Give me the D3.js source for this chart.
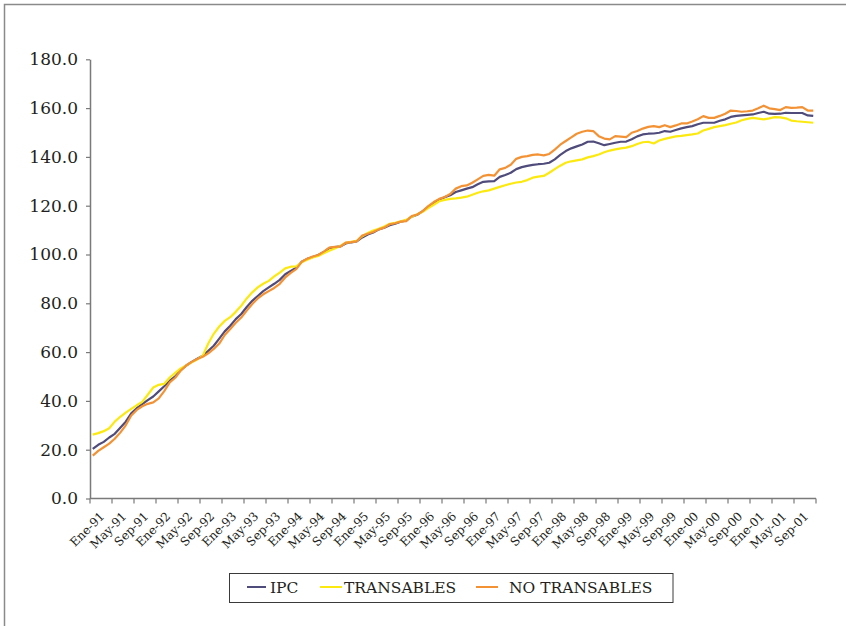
<!DOCTYPE html>
<html>
<head>
<meta charset="utf-8">
<script src="https://cdn.jsdelivr.net/npm/d3@7"></script>
<style>
  html, body { margin: 0; padding: 0; background: #ffffff; }
  svg { display: block; }
</style>
</head>
<body>
<svg id="chart" width="846" height="626"></svg>
<script>
// Monthly index, January 1991 to December 2001
const monthNames = ["Ene", "Feb", "Mar", "Abr", "May", "Jun", "Jul", "Ago", "Sep", "Oct", "Nov", "Dic"];
const years = [91, 92, 93, 94, 95, 96, 97, 98, 99, 0, 1];
const months = [];
years.forEach(y => monthNames.forEach(m => months.push(m + "-" + String(y).padStart(2, "0"))));

const ipc = [
  20.3, 22.0, 23.2, 25.0, 26.5, 29.0, 31.5, 34.9, 37.0, 38.7, 40.3, 41.8,
  43.9, 46.0, 48.3, 50.0, 52.7, 54.5, 56.0, 57.3, 58.5, 60.5, 62.6, 65.5,
  68.5, 70.8, 73.5, 75.6, 78.5, 81.0, 83.0, 85.0, 86.5, 88.0, 89.6, 91.9,
  93.3, 94.6, 97.0, 98.2, 99.0, 99.8, 101.0, 102.6, 103.0, 103.3, 104.5, 105.0,
  105.4, 107.0, 108.2, 109.0, 110.3, 111.0, 112.0, 112.6, 113.4, 114.0, 115.5, 116.3,
  117.8, 119.5, 121.2, 122.5, 123.5, 124.3, 125.6, 126.3, 127.0, 127.6, 128.8, 129.8,
  130.0, 130.1, 131.8, 132.6, 133.5, 135.0, 135.8, 136.3, 136.7, 137.0, 137.2, 137.6,
  139.0, 140.8, 142.4, 143.5, 144.3, 145.1, 146.2, 146.3, 145.6, 144.8, 145.3, 145.8,
  146.2, 146.3, 147.2, 148.4, 149.2, 149.5, 149.6, 149.9, 150.6, 150.3, 151.0, 151.7,
  152.2, 152.6, 153.4, 154.0, 154.0, 154.0, 154.8, 155.4, 156.4, 156.8, 157.0, 157.2,
  157.4, 158.0, 158.5, 157.7, 157.6, 157.7, 158.1, 158.0, 158.0, 158.0, 157.0, 156.8
];

const transables = [
  26.2, 26.8, 27.6, 28.8, 31.5, 33.5, 35.2, 36.7, 38.2, 39.6, 42.5, 45.5,
  46.6, 47.0, 49.6, 51.5, 53.3, 54.5, 55.8, 57.0, 58.5, 63.5, 67.5, 70.5,
  72.8, 74.3, 76.5, 79.0, 82.0, 84.5, 86.5, 88.0, 89.2, 91.0, 92.6, 94.3,
  95.0, 95.1, 96.8, 97.8, 98.8, 99.4, 100.5, 101.5, 102.5, 103.5, 104.8, 105.2,
  105.6, 107.5, 108.8, 109.8, 110.5, 111.5, 112.6, 113.0, 113.6, 114.2, 115.5, 116.5,
  117.5, 119.0, 120.4, 121.8, 122.4, 122.8, 123.0, 123.3, 123.7, 124.5, 125.3, 125.9,
  126.3, 127.0, 127.7, 128.4, 129.0, 129.5, 129.8, 130.5, 131.5, 131.9, 132.2, 133.5,
  135.0, 136.4, 137.6, 138.2, 138.6, 139.0, 139.8, 140.3, 141.0, 141.9, 142.6, 143.1,
  143.5, 143.8, 144.4, 145.3, 146.0, 146.2, 145.5, 146.7, 147.4, 147.9, 148.4, 148.6,
  148.9, 149.2, 149.6, 150.8, 151.5, 152.2, 152.6, 153.0, 153.6, 154.1, 155.0, 155.6,
  156.0, 155.7, 155.4, 155.8, 156.3, 156.2, 155.8, 154.9, 154.6, 154.4, 154.2, 154.0
];

const noTransables = [
  17.6, 19.5, 21.0, 22.5, 24.5, 27.0, 30.0, 34.0, 36.3, 37.8, 38.8, 39.4,
  41.0, 44.0, 47.6, 49.5, 52.4, 54.5, 56.0, 57.2, 58.1, 59.5, 61.3, 63.5,
  67.0, 69.5, 72.0, 74.2, 77.0, 79.7, 82.0, 83.7, 85.0, 86.3, 88.0, 90.6,
  92.5, 94.0, 97.0, 98.3, 99.2, 99.8, 101.2, 102.8, 103.1, 103.2, 104.9, 105.1,
  105.4, 107.8, 108.5, 109.2, 110.3, 111.0, 112.4, 112.8, 113.5, 113.7, 115.8, 116.4,
  117.8, 119.8, 121.5, 122.8, 123.6, 124.8, 127.0, 128.0, 128.3, 129.4, 130.8, 132.2,
  132.6, 132.3, 134.9, 135.5, 136.8, 139.2, 140.0, 140.3, 140.8, 141.0, 140.6, 141.2,
  143.0, 145.0, 146.5, 148.0, 149.5, 150.3, 150.8, 150.6, 148.5, 147.5, 147.2, 148.5,
  148.3, 148.1, 149.9, 150.6, 151.6, 152.3, 152.6, 152.2, 153.0, 152.2, 152.9, 153.7,
  153.7, 154.5, 155.4, 156.7, 156.0, 156.0, 156.8, 157.7, 159.0, 158.8, 158.5, 158.7,
  159.0, 159.9, 161.0, 159.9, 159.6, 159.2, 160.4, 160.1, 160.2, 160.4, 159.0, 159.0
];

const yTicks = [0, 20, 40, 60, 80, 100, 120, 140, 160, 180];
const labelStep = 4;

const seriesNames = ["IPC", "TRANSABLES", "NO TRANSABLES"];
const seriesColors = ["#4f4b7b", "#fbe910", "#f39234"];
const seriesValues = [ipc, transables, noTransables];

const svg = d3.select("#chart");
const serif = "'DejaVu Serif', 'Liberation Serif', serif";
const textColor = "#231f20";
const axisColor = "#7a7a7a";

// Frame around the chart area
svg.append("rect")
  .attr("x", 4.5).attr("y", 4.5)
  .attr("width", 900).attr("height", 640)
  .attr("fill", "none")
  .attr("stroke", "#8a8a8a")
  .attr("stroke-width", 1.5);

const x = d3.scaleBand().domain(months).range([90, 816]).padding(0);
const y = d3.scaleLinear().domain([0, 180]).range([498.5, 59.3]);
const cx = m => x(m) + x.bandwidth() / 2;

// Y axis
const yAxis = d3.axisLeft(y)
  .tickValues(yTicks)
  .tickFormat(d3.format(".1f"))
  .tickSizeInner(4)
  .tickSizeOuter(0)
  .tickPadding(8);

const gy = svg.append("g").attr("transform", "translate(90,0)").call(yAxis);
gy.select(".domain").attr("stroke", axisColor).attr("stroke-width", 1.5);
gy.selectAll(".tick line").attr("stroke", axisColor).attr("stroke-width", 1.2);
gy.selectAll(".tick text")
  .attr("fill", textColor)
  .style("font-family", serif)
  .style("font-size", "17px");

// X axis: tick marks at every fourth month boundary
const tickMonths = months.filter((m, i) => i % labelStep === 0);
const gx = svg.append("g");
gx.append("line")
  .attr("x1", x.range()[0]).attr("x2", x.range()[1])
  .attr("y1", y(0)).attr("y2", y(0))
  .attr("stroke", axisColor).attr("stroke-width", 1.5);
const boundaries = tickMonths.map(m => x(m)).concat([x.range()[1]]);
gx.selectAll("line.tick")
  .data(boundaries)
  .join("line")
  .attr("class", "tick")
  .attr("x1", d => d).attr("x2", d => d)
  .attr("y1", y(0)).attr("y2", y(0) + 5)
  .attr("stroke", axisColor).attr("stroke-width", 1.2);

gx.selectAll("text")
  .data(tickMonths)
  .join("text")
  .attr("transform", m => `translate(${cx(m) + 12.5},${y(0) + 18.5}) rotate(-45)`)
  .attr("text-anchor", "end")
  .attr("fill", textColor)
  .style("font-family", serif)
  .style("font-size", "12px")
  .text(m => m);

// Series lines
const line = d3.line()
  .x((d, i) => cx(months[i]))
  .y(d => y(d));

seriesValues.forEach((vals, k) => {
  svg.append("path")
    .datum(vals)
    .attr("fill", "none")
    .attr("stroke", seriesColors[k])
    .attr("stroke-width", 2.2)
    .attr("stroke-linejoin", "round")
    .attr("d", line);
});

// Legend
const legend = svg.append("g");
legend.append("rect")
  .attr("x", 229.5).attr("y", 573.5)
  .attr("width", 443.5).attr("height", 29)
  .attr("fill", "#ffffff")
  .attr("stroke", "#3a3a3a")
  .attr("stroke-width", 1);

const legendItems = [
  { x1: 247, x2: 266, tx: 270 },
  { x1: 320, x2: 342, tx: 344 },
  { x1: 476, x2: 498, tx: 509 }
];
legendItems.forEach((it, k) => {
  legend.append("line")
    .attr("x1", it.x1).attr("x2", it.x2)
    .attr("y1", 587).attr("y2", 587)
    .attr("stroke", seriesColors[k])
    .attr("stroke-width", 2);
  legend.append("text")
    .attr("x", it.tx).attr("y", 593)
    .attr("fill", textColor)
    .style("font-family", serif)
    .style("font-size", "15.5px")
    .text(seriesNames[k]);
});
</script>
</body>
</html>
